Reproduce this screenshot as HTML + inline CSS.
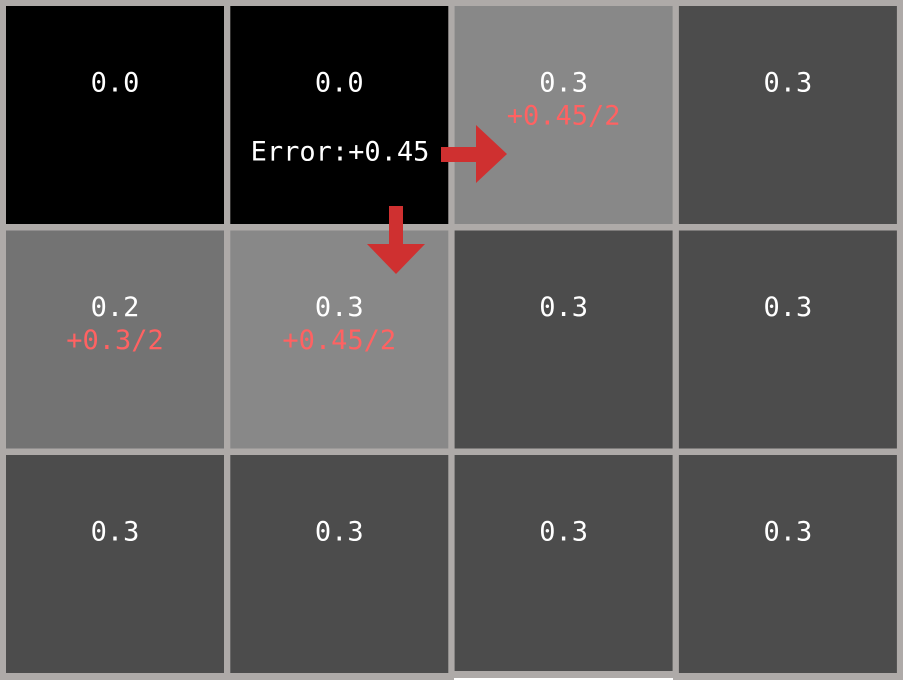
<!DOCTYPE html>
<html><head><meta charset="utf-8"><style>
html,body{margin:0;padding:0;background:#fff;}
svg{display:block;}
text{font-family:"DejaVu Sans Mono","Liberation Mono",monospace;font-size:27px;text-anchor:middle;dominant-baseline:central;}
</style></head><body>
<svg id="chart" width="903" height="680" viewBox="0 0 903 680">
<rect x="0" y="0" width="903" height="680" fill="#aeaaa8"></rect>
<rect x="454" y="678" width="219" height="2" fill="#ffffff"></rect>
</svg>
<script>
const values = [[0.0,0.0,0.3,0.3],[0.2,0.3,0.3,0.3],[0.3,0.3,0.3,0.3]];
const fills = [["#000000","#000000","#888888","#4c4c4c"],["#737373","#888888","#4c4c4c","#4c4c4c"],["#4c4c4c","#4c4c4c","#4c4c4c","#4c4c4c"]];
const notes = [["","","+0.45/2",""],["+0.3/2","+0.45/2","",""],["","","",""]];
const errorLabel = "Error:+0.45";
const svg = document.getElementById('chart');
const NS = "http://www.w3.org/2000/svg";
const colX = c => 6 + c*224.3;
const rowY = r => 6 + r*224.5;
const cw = 218, ch = 218;
function mk(tag, attrs){const e=document.createElementNS(NS,tag);for(const k in attrs)e.setAttribute(k,attrs[k]);svg.appendChild(e);return e;}
for(let r=0;r<values.length;r++){for(let c=0;c<values[r].length;c++){
  const h = (r===2&&c===2)?216:ch;
  const rect = mk('rect',{x:colX(c),y:rowY(r),width:cw,height:h,fill:fills[r][c]});
  
  
  const t = mk('text',{x:colX(c)+cw/2,y:rowY(r)+77,fill:'#ffffff'});
  t.textContent = values[r][c].toFixed(1);
  
  
  if(notes[r][c]){
    const n = mk('text',{x:colX(c)+cw/2,y:rowY(r)+110,fill:'#ff6262'});
    n.textContent = notes[r][c];
    
    
  }
}}
const el = mk('text',{x:340,y:152,fill:'#ffffff'});
el.textContent = errorLabel;


const ra = mk('polygon',{points:"441,147 476,147 476,125 507,154 476,183 476,162 441,162",fill:'#cf3030'});


const da = mk('polygon',{points:"389,206 403,206 403,244 425,244 396,274 367,244 389,244",fill:'#cf3030'});


</script>
</body></html>
